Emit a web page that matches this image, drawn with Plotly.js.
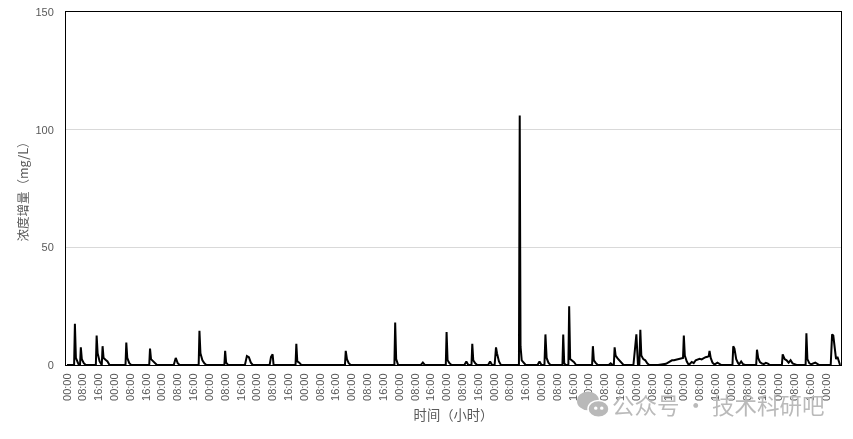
<!DOCTYPE html>
<html>
<head>
<meta charset="utf-8">
<script src="https://cdn.plot.ly/plotly-3.0.1.min.js"></script>
<style>html,body{margin:0;padding:0;background:#fff}#c{width:853px;height:439px;will-change:transform}</style>
</head>
<body>
<div id="c"></div>
<script>
const hours = [
  0,
  3.6,4,4.5,5.5,6,
  6.6,7,7.5,8.5,9.5,
  14.6,15,15.5,16.5,17.5,
  17.6,18,18.5,19.5,20.5,21.5,
  29.6,30,30.5,31.5,32.5,
  41.6,42,42.5,43.5,44.5,45.5,
  54,55,56,57,
  66.6,67,67.5,68.5,69.5,70.5,
  79.6,80,80.5,81.5,
  90,91,92,93,94,
  102.5,103.2,104,104.5,
  115.6,116,116.5,117.5,118.5,
  140.6,141,141.6,142.5,143.5,
  165.6,166,166.5,167.5,
  179,180,181,
  191.6,192,192.5,193.5,194.5,
  201,202,203,
  204.6,205,205.5,206.5,207.5,
  213,214,215,
  216.3,217,217.5,218.5,219.5,
  228.6,229,229.4,230,231,232,
  238,239,240,
  241.5,242,242.6,243.5,244.5,
  250.6,251,251.5,252.2,
  253.6,254,254.5,255.5,256.5,257.5,
  265.6,266,266.5,267.5,268.5,
  274,275,276,
  276.6,277,277.5,278.5,279.5,280.5,281.5,
  286.5,288,288.8,
  289.5,290,290.5,291.5,292.5,293.5,294.5,
  299,301,303,304,305,306,307,308,309,310,311,311.6,312,312.5,313.5,314.5,
  316,317,318,319,320,321,322,323,324,324.6,325,325.6,326.5,327.5,329,330,331,
  336.6,337,337.6,338.5,339.5,340,341,342,343,
  348.6,349,349.6,350.5,351.5,352.5,353.5,354.5,355.5,
  361.6,362,363,364,365,366,367,368,369,
  373.6,374,374.5,375.5,376.5,377.5,378.5,379.5,380.5,
  386.3,387,387.6,388.3,389,389.7,390.5,391
];
const conc = [
  0,
  0,17.5,3,1,0,
  0,7.5,2.5,0.8,0,
  0,12.5,5,1.5,0,
  0,8,3,2.2,1.5,0,
  0,9.5,3,0.8,0,
  0,7,2.5,1.5,0.8,0,
  0,3,0.8,0,
  0,14.5,5,2,0.7,0,
  0,6,1,0,
  0,3.8,3.3,1,0,
  0,3.5,4.5,0,
  0,9,1.5,1,0,
  0,6,2.5,0.8,0,
  0,18,2.5,0,
  0,1,0,
  0,14,2,0.7,0,
  0,1.5,0,
  0,9,2,0.7,0,
  0,1.5,0,
  0,7.5,5,1.5,0,
  0,106,8,2,0.8,0,
  0,1.5,0,
  0,13,3,1,0,
  0,13,0.8,0,
  0,25,2.5,2,1.2,0,
  0,8,2,0.8,0,
  0,0.7,0,
  0,7.5,4,2.8,2,1,0,
  0,13,0,
  0,15,4,2.5,2,0.7,0,
  0,0.3,0.5,1,1.5,2,2,2.2,2.3,2.7,3,3,12.5,4,1.5,0,
  1.3,0.8,2,2.2,2.6,2.4,3,3.3,3.5,3.8,6,3,1,0.2,1,0.4,0,
  0,8,7,2.5,0.7,0.3,1.5,0.3,0,
  0,6.5,3,1.2,0.6,0.4,0.9,0.6,0,
  0,4.5,2.5,2,1,2,0.7,0.3,0,
  0,13.5,2.5,0.7,0.3,0.8,1,0.5,0,
  0,13,12.5,7,2.5,3.5,1.5,0
];
const tickHours = [];
const tickLabels = [];
const labelCycle = ['00:00','08:00','16:00'];
for (let i = 0; i <= 48; i++) { tickHours.push(i * 8); tickLabels.push(labelCycle[i % 3]); }
const yTicks = [0, 50, 100, 150];
const xTitle = '时间（小时）';
const yTitle = '浓度增量（mg/L）';
const watermark = '公众号 · 技术科研吧';
const grey = '#595959';
const cjk = '"Noto Sans CJK SC", sans-serif';
const M = {l:66, r:12, t:11.5, b:73.5, pad:0};
const plotW = 853 - M.l - M.r, plotH = 439 - M.t - M.b;
const paperX = px => (px - M.l) / plotW;
const paperY = py => 1 - (py - M.t) / plotH;
const bubble = (x0, y0, x1, y1, fill, line) => ({type:'circle', xref:'paper', yref:'paper', layer:'above',
  x0:paperX(x0), x1:paperX(x1), y0:paperY(y1), y1:paperY(y0), fillcolor:fill, line:{color:line, width:line==='rgba(0,0,0,0)'?0:1.5}});
Plotly.newPlot('c', [{
  x: hours, y: conc, type:'scatter', mode:'lines',
  line:{color:'#000000', width:2, shape:'linear'}, hoverinfo:'skip', cliponaxis:false
}], {
  width:853, height:439, showlegend:false,
  paper_bgcolor:'#fff', plot_bgcolor:'#fff',
  margin:M,
  xaxis:{range:[-0.5,391.5], tickmode:'array', tickvals:tickHours, ticktext:tickLabels, tickangle:-90,
    tickfont:{family:'"Liberation Sans", Arial, sans-serif', size:11, color:grey},
    ticks:'outside', ticklen:3, tickcolor:'rgba(0,0,0,0)', showgrid:false, zeroline:false, showline:true, linecolor:'#000', linewidth:1, mirror:true,
    title:{text:xTitle, font:{family:cjk, size:13.3, color:grey}, standoff:10}, automargin:false},
  yaxis:{range:[0,150], tickmode:'array', tickvals:yTicks, ticktext:yTicks.map(String),
    tickfont:{family:'"Liberation Sans", Arial, sans-serif', size:11, color:grey},
    ticks:'outside', ticklen:9, tickcolor:'rgba(0,0,0,0)', showgrid:true, gridcolor:'#d9d9d9', gridwidth:1, zeroline:false,
    showline:true, linecolor:'#000', linewidth:1, mirror:true,
    title:{text:yTitle, font:{family:cjk, size:12.5, color:grey}, standoff:5}, automargin:false},
  shapes:[
    bubble(577,392,599,411,'#b9b9b9','rgba(0,0,0,0)'),
    bubble(588,401,609,418,'#b9b9b9','#ffffff'),
    bubble(594,407,597.5,410.5,'#ffffff','rgba(0,0,0,0)'),
    bubble(600,407,603.5,410.5,'#ffffff','rgba(0,0,0,0)')
  ],
  annotations:[{text:watermark, xref:'paper', yref:'paper', x:paperX(718), y:paperY(405), xanchor:'center', yanchor:'middle',
    showarrow:false, font:{family:cjk, size:22.5, color:'#bababa'}}]
}, {displayModeBar:false, staticPlot:true}).then(() => {
  const t = document.querySelector('.ytitle');
  if (t) t.setAttribute('transform', 'translate(1,0) ' + (t.getAttribute('transform') || ''));
});
</script>
</body>
</html>
